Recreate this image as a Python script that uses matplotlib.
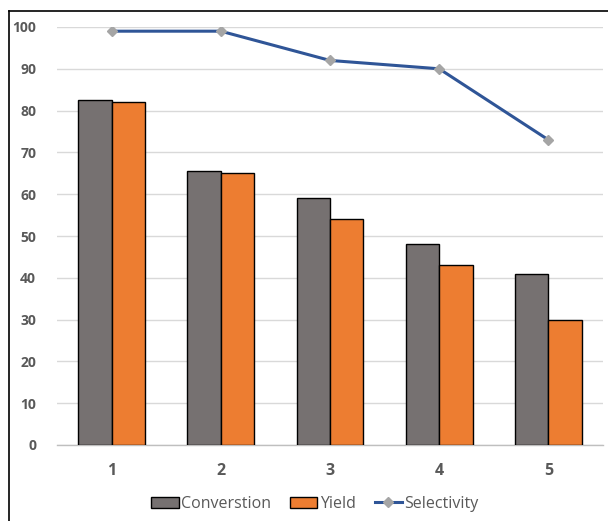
import matplotlib
matplotlib.use("Agg")
import matplotlib.pyplot as plt
import numpy as np
from matplotlib.lines import Line2D
from matplotlib.patches import Patch

categories = ["1", "2", "3", "4", "5"]
conversion = [82.5, 65.5, 59, 48, 41]
yield_ = [82, 65, 54, 43, 30]
selectivity = [99, 99, 92, 90, 73]
yticks = [0, 10, 20, 30, 40, 50, 60, 70, 80, 90, 100]

plt.rcParams['font.family'] = ['Open Sans', 'DejaVu Sans']

fig = plt.figure(figsize=(6.08, 5.21), dpi=100)
ax = fig.add_axes([57/608, 1-445/521, 546/608, 418/521])

x = np.arange(len(categories))
w = 0.305
ax.bar(x - w/2, conversion, w, color="#767171", edgecolor="black", linewidth=1, zorder=3)
ax.bar(x + w/2, yield_, w, color="#ED7D31", edgecolor="black", linewidth=1, zorder=3)
ax.plot(x, selectivity, color="#2F5597", linewidth=2.2, marker="D", markersize=5,
        markerfacecolor="#A5A5A5", markeredgecolor="#A5A5A5", zorder=4)

ax.set_xlim(-0.5, len(categories) - 0.5)
ax.set_ylim(0, 100)
ax.set_yticks(yticks)
ax.set_xticks(x)
ax.set_xticklabels(categories)
ax.grid(axis="y", color="#D9D9D9", linewidth=1, zorder=0)
for s in ["top", "right", "left"]:
    ax.spines[s].set_visible(False)
ax.spines["bottom"].set_color("#BFBFBF")
ax.spines["bottom"].set_linewidth(1)
ax.tick_params(axis="both", length=0, labelcolor="#595959")
ax.tick_params(axis="y", pad=15, labelsize=10)
ax.tick_params(axis="x", pad=13, labelsize=11.5)
for lab in ax.get_xticklabels() + ax.get_yticklabels():
    lab.set_fontweight("bold")

handles = [Patch(facecolor="#767171", edgecolor="black", label="Converstion"),
           Patch(facecolor="#ED7D31", edgecolor="black", label="Yield"),
           Line2D([0], [0], color="#2F5597", linewidth=2.2, marker="D", markersize=5,
                  markerfacecolor="#A5A5A5", markeredgecolor="#A5A5A5", label="Selectivity")]
leg = fig.legend(handles=handles, loc="center", bbox_to_anchor=(315/608, 1-504/521), ncol=3,
                 frameon=False, fontsize=11.5, handlelength=1.7, handleheight=0.7,
                 handletextpad=0.15, columnspacing=1.2, labelcolor="#595959")

# outer frame (cropped: only left and top visible)
fig.add_artist(Line2D([8.5/608, 8.5/608], [0, 1-10.5/521], color="black", linewidth=1.2, transform=fig.transFigure))
fig.add_artist(Line2D([8.5/608, 1], [1-10.5/521, 1-10.5/521], color="black", linewidth=1.2, transform=fig.transFigure))

fig.savefig("out.png", dpi=100)
